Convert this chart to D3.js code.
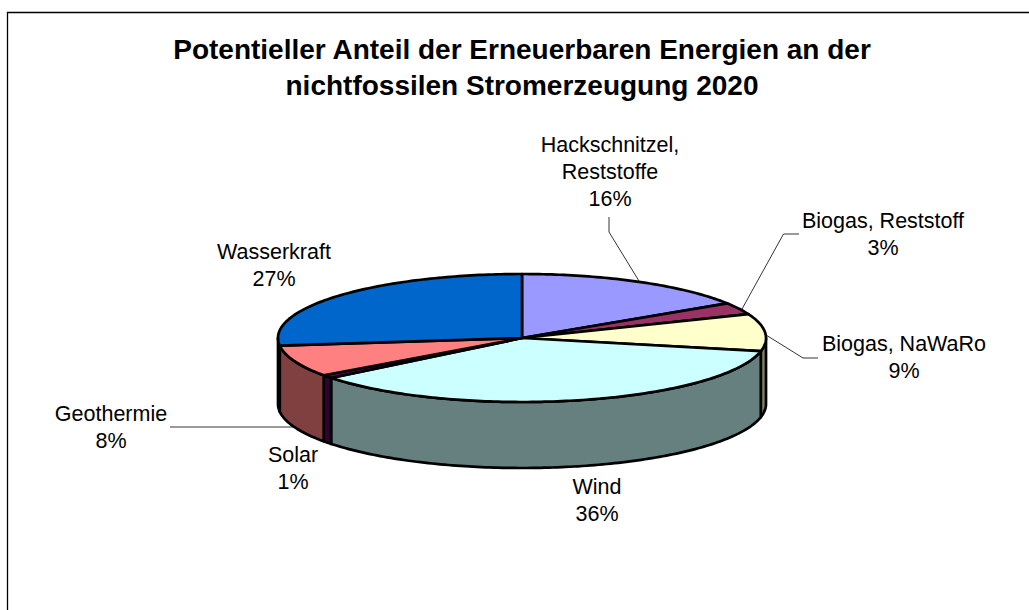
<!DOCTYPE html>
<html><head><meta charset="utf-8">
<script src="https://cdn.jsdelivr.net/npm/d3@7"></script>
<style>html,body{margin:0;padding:0;background:#fff}svg{display:block}text{font-family:"Liberation Sans",Arial,sans-serif;fill:#000}</style>
</head><body><svg id="c" width="1029" height="610"></svg>
<script>
const categories=["Hackschnitzel, Reststoffe","Biogas, Reststoff","Biogas, NaWaRo","Wind","Solar","Geothermie","Wasserkraft"];
const values=[15.9,3,9.4,36,0.8,8,26.9];
const topColors=["#9999FF","#993366","#FFFFCC","#CCFFFF","#660066","#FF8080","#0066CC"];
const sideColors=["#4D4D80","#4D1A33","#808066","#668080","#330033","#804040","#003366"];
const labelLines=[["Hackschnitzel,","Reststoffe","16%"],["Biogas, Reststoff","3%"],["Biogas, NaWaRo","9%"],["Wind","36%"],["Solar","1%"],["Geothermie","8%"],["Wasserkraft","27%"]];
const labelPos=[[610,152],[883,228],[904,351],[597,494],[293,462],[111,421],[274,259]];
const leaders=[[[609,217],[609,232],[639,281]],[[799,234],[783.5,234],[742,309]],[[818,358],[803,358],[766,335]],[],[],[[170,427],[293,427]],[]];
const titleLines=["Potentieller Anteil der Erneuerbaren Energien an der","nichtfossilen Stromerzeugung 2020"];

const svg=d3.select("#c");
svg.append("path").attr("d","M7.5,610V12.5H1029").attr("fill","none").attr("stroke","#000").attr("stroke-width",1.3);
svg.selectAll("text.t").data(titleLines).join("text").attr("class","t").attr("x",522).attr("y",(d,i)=>59+i*36)
  .attr("text-anchor","middle").attr("font-weight","bold").attr("font-size",28).text(d=>d);

const cx=522,cy=338,rx=244,ry=64,depth=66;
const X=d3.scaleLinear().domain([-1,1]).range([cx-rx,cx+rx]);
const Y=d3.scaleLinear().domain([-1,1]).range([cy+ry,cy-ry]);
const pie=d3.pie().sort(null).value(d=>d);
const arcs=pie(values);
const step=Math.PI/180;
const pt=a=>[X(Math.sin(a)),Y(Math.cos(a))];
const samples=(a,b)=>{const n=Math.max(2,Math.ceil((b-a)/step));return d3.range(n+1).map(i=>a+(b-a)*i/n);};
const line=d3.line();
const g=svg.append("g").attr("stroke","#000").attr("stroke-width",2.7).attr("stroke-linejoin","round");
arcs.forEach((d,i)=>{
  const a=Math.max(d.startAngle,Math.PI/2),b=Math.min(d.endAngle,3*Math.PI/2);
  if(b<=a)return;
  const top=samples(a,b).map(pt);
  const bottom=top.slice().reverse().map(p=>[p[0],p[1]+depth]);
  g.append("path").attr("d",line(top.concat(bottom))+"Z").attr("fill",sideColors[i]);
});
arcs.forEach((d,i)=>{
  const p=[[cx,cy]].concat(samples(d.startAngle,d.endAngle).map(pt));
  g.append("path").attr("d",line(p)+"Z").attr("fill",topColors[i]);
});
svg.selectAll("path.l").data(leaders.filter(l=>l.length)).join("path").attr("class","l")
  .attr("d",line).attr("fill","none").attr("stroke","#000").attr("stroke-width",0.8);
labelLines.forEach((ls,i)=>{
  svg.append("text").attr("text-anchor","middle").attr("font-size",21.5)
   .selectAll("tspan").data(ls).join("tspan").attr("x",labelPos[i][0]).attr("y",(d,j)=>labelPos[i][1]+j*27.2).text(d=>d);
});
</script></body></html>
